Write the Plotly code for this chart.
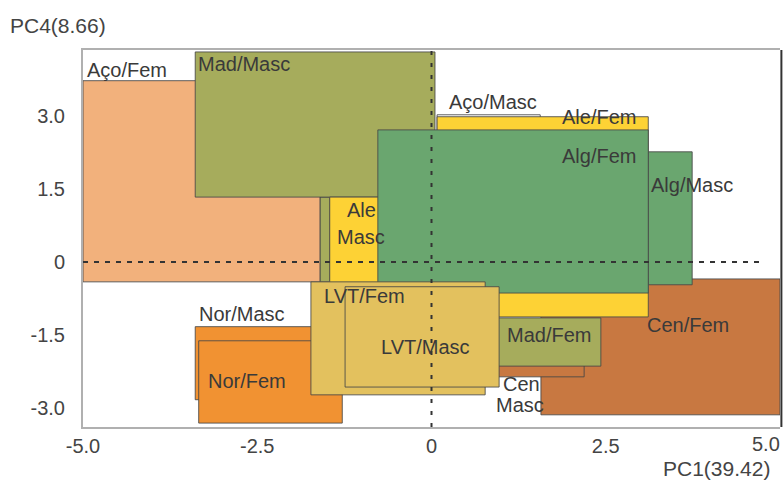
import plotly.graph_objects as go

# ---- data: box bounds in PC1 / PC4 space (drawn back to front) ----
box_names = ["Cen/Fem", "Cen/Masc", "Aço/Masc", "Ale/Fem", "Mad/Fem", "Alg/Masc",
             "Mad/Masc (lower)", "Aço/Fem", "Mad/Masc", "Ale/Masc", "Alg/Fem",
             "Nor/Masc", "Nor/Fem", "LVT/Fem", "LVT/Masc"]
box_x0 = [1.57, 0.95, 0.08, 0.08, 0.95, 3.11, -1.60, -5.00, -3.39, -1.46, -0.77, -3.39, -3.34, -1.73, -1.24]
box_x1 = [5.00, 2.19, 1.56, 3.11, 2.43, 3.74, -1.46, -1.60, 0.05, -0.60, 3.11, -1.50, -1.28, 0.77, 0.97]
box_y0 = [-3.14, -2.36, 1.00, -1.13, -2.14, -0.47, -0.41, -0.41, 1.33, -0.50, -0.64, -2.83, -3.31, -2.73, -2.57]
box_y1 = [-0.35, -1.30, 3.02, 2.98, -1.15, 2.26, 1.33, 3.72, 4.31, 1.33, 2.71, -1.33, -1.62, -0.41, -0.51]
box_group = ["Cen", "Cen", "AcoM", "Ale", "Mad", "Alg", "Mad", "AcoF", "Mad", "Ale", "Alg",
             "Nor", "Nor", "LVT", "LVT"]

# label texts
label_text = ["Aço/Fem", "Mad/Masc", "Aço/Masc", "Ale/Fem", "Alg/Fem", "Alg/Masc",
              "Ale", "Masc", "LVT/Fem", "LVT/Masc", "Mad/Fem", "Cen/Fem",
              "Cen", "Masc", "Nor/Masc", "Nor/Fem"]

x_tickvals = [-5.0, -2.5, 0, 2.5]
x_ticktext = ["-5.0", "-2.5", "0", "2.5"]
x_last_tick = 5.0
x_last_text = "5.0"
y_tickvals = [-3.0, -1.5, 0, 1.5, 3.0]
y_ticktext = ["-3.0", "-1.5", "0", "1.5", "3.0"]

x_title = "PC1(39.42)"
y_title = "PC4(8.66)"

# ---- styling / placement ----
group_color = {
    "Cen": "#C87841", "AcoM": "#FFFFFF", "Ale": "#FDD235", "Mad": "#A6AC5C",
    "Alg": "#6AA66F", "AcoF": "#F2B17C", "Nor": "#F19232", "LVT": "#E3C15E",
}
# label placement (x, y, xanchor)
label_pos = [(-4.97, 3.94, "left"), (-3.38, 4.07, "left"), (0.22, 3.29, "left"),
             (1.84, 2.98, "left"), (1.84, 2.18, "left"), (3.12, 1.58, "left"),
             (-1.01, 1.07, "center"), (-1.01, 0.51, "center"),
             (-1.57, -0.70, "left"), (-0.09, -1.75, "center"), (1.05, -1.50, "left"),
             (3.06, -1.29, "left"), (1.29, -2.50, "center"), (1.27, -2.94, "center"),
             (-3.36, -1.07, "left"), (-3.24, -2.44, "left")]

FONT = "Liberation Sans, Arial, sans-serif"
TXT = "#3a3a3a"
AX = "#444444"

fig = go.Figure()
fig.add_trace(go.Scatter(x=[-5, 5], y=[-3, 3], mode="markers",
                         marker=dict(opacity=0), hoverinfo="skip", showlegend=False))

shapes = []
for n, x0, x1, y0, y1, g in zip(box_names, box_x0, box_x1, box_y0, box_y1, box_group):
    shapes.append(dict(type="rect", xref="x", yref="y", x0=x0, x1=x1, y0=y0, y1=y1,
                       fillcolor=group_color[g],
                       line=dict(color="rgba(70,70,70,0.85)", width=1), layer="above"))

# reference lines
shapes.append(dict(type="line", xref="x", yref="y", x0=-5, x1=4.74, y0=0, y1=0,
                   line=dict(color="#333333", width=2, dash="5px,6px"), layer="above"))
shapes.append(dict(type="line", xref="x", yref="paper", x0=0, x1=0, y0=0, y1=1,
                   line=dict(color="#333333", width=2, dash="4px,8px"), layer="above"))
# right frame line (dark)
shapes.append(dict(type="line", xref="paper", yref="paper", x0=1.002, x1=1.002, y0=0, y1=1,
                   line=dict(color="#333333", width=2), layer="above"))

annotations = []
for t, (lx, ly, xa) in zip(label_text, label_pos):
    annotations.append(dict(x=lx, y=ly, xref="x", yref="y", text=t, showarrow=False,
                            xanchor=xa, yanchor="middle",
                            font=dict(family=FONT, size=20, color=TXT)))
annotations.append(dict(x=-0.1076, y=1.066, xref="paper", yref="paper", text=y_title,
                        showarrow=False, xanchor="left", yanchor="middle",
                        font=dict(family=FONT, size=21, color=AX)))
annotations.append(dict(x=0.9885, y=-0.111, xref="paper", yref="paper", text=x_title,
                        showarrow=False, xanchor="right", yanchor="middle",
                        font=dict(family=FONT, size=21, color=AX)))
# last x tick label, kept inside the page edge
annotations.append(dict(x=x_last_tick, y=-0.045, xref="x", yref="paper", text=x_last_text,
                        showarrow=False, xanchor="right", xshift=2, yanchor="middle",
                        font=dict(family=FONT, size=20, color=AX)))

fig.update_layout(
    width=783, height=483,
    margin=dict(l=83, r=3, t=50, b=56),
    paper_bgcolor="white", plot_bgcolor="white",
    shapes=shapes, annotations=annotations, showlegend=False,
    font=dict(family=FONT, size=20, color=AX),
)
fig.update_xaxes(range=[-5, 5], tickvals=x_tickvals, ticktext=x_ticktext,
                 showgrid=False, zeroline=False, showline=True, linecolor="#b0b0b0",
                 linewidth=2, mirror=True, ticks="",
                 tickfont=dict(family=FONT, size=20, color=AX))
fig.update_yaxes(range=[-3.39, 4.35], tickvals=y_tickvals, ticktext=y_ticktext,
                 showgrid=False, zeroline=False, showline=True, linecolor="#b0b0b0",
                 linewidth=2, ticks="outside", ticklen=12,
                 tickcolor="rgba(0,0,0,0)", tickfont=dict(family=FONT, size=20, color=AX))

fig.write_html("out.html", config={"displayModeBar": False},
               post_script="document.body.style.margin='0';")
